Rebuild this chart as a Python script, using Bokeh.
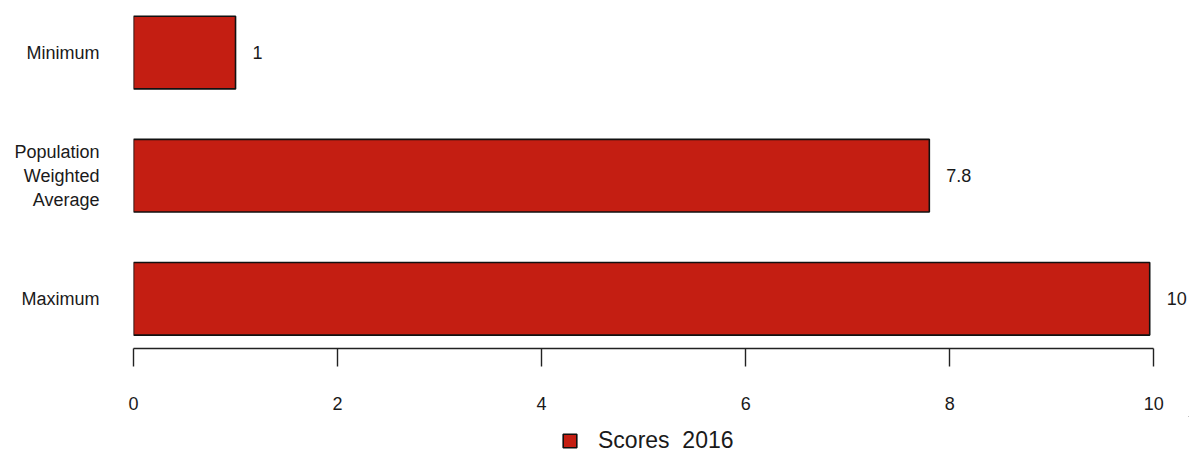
from bokeh.plotting import figure
from bokeh.layouts import column
from bokeh.models import Range1d, FixedTicker, Legend, LegendItem, ColumnDataSource
from bokeh.core.properties import value
from bokeh.embed import file_html
from bokeh.resources import INLINE

# ---- data ----
categories = ["Maximum", "Population\nWeighted\nAverage", "Minimum"]   # bottom -> top
scores_2016 = [9.96, 7.8, 1.0]
value_labels = ["10", "7.8", "1"]
x_ticks = [0, 2, 4, 6, 8, 10]
series_name = "Scores  2016"

FONT = "Liberation Sans"
BAR_COLOR = "#C41E12"
EDGE = "#111111"

pos = list(range(1, len(categories) + 1))
src = ColumnDataSource(dict(y=pos, v=scores_2016, lab=value_labels))

p = figure(width=1189, height=416, output_backend="svg", toolbar_location=None,
           x_range=Range1d(0, 10.35), y_range=Range1d(0.596, 3.358),
           min_border_left=133, min_border_right=0, min_border_top=8, min_border_bottom=68)
p.outline_line_color = None
p.xgrid.visible = False
p.ygrid.visible = False

bars = p.hbar(y="y", right="v", left=0, height=0.59, source=src,
              fill_color=BAR_COLOR, line_color=EDGE, line_width=1.6)

p.text(x="v", y="y", text="lab", source=src, x_offset=17,
       text_align="left", text_baseline="middle",
       text_font=value(FONT), text_font_size="18px", text_color="#1a1a1a")

# x axis (R style)
xa = p.xaxis[0]
xa.ticker = FixedTicker(ticks=x_ticks)
xa.bounds = (0, 10)
xa.axis_line_color = "#222222"
xa.axis_line_width = 1.4
xa.major_tick_line_color = "#222222"
xa.major_tick_line_width = 1.4
xa.major_tick_out = 18
xa.major_tick_in = 0
xa.minor_tick_line_color = None
xa.major_label_standoff = 30
xa.major_label_text_font = FONT
xa.major_label_text_font_size = "18px"
xa.major_label_text_color = "#1a1a1a"

# y axis
ya = p.yaxis[0]
ya.ticker = FixedTicker(ticks=pos)
ya.major_label_overrides = {pp: c for pp, c in zip(pos, categories)}
ya.axis_line_color = None
ya.major_tick_line_color = None
ya.minor_tick_line_color = None
ya.major_tick_out = 0
ya.major_tick_in = 0
ya.major_label_standoff = 34
ya.major_label_text_font = FONT
ya.major_label_text_font_size = "18px"
ya.major_label_text_color = "#1a1a1a"
ya.major_label_text_line_height = 1.2

# legend strip below the chart (the key renderer's bars lie well outside its view)
pl = figure(width=1189, height=38, output_backend="svg", toolbar_location=None,
            x_range=Range1d(-40, -39), y_range=Range1d(-40, -39),
            x_axis_type=None, y_axis_type=None, min_border=0)
pl.outline_line_color = None
pl.grid.visible = False
key = pl.hbar(y="y", right="v", left=0, height=0.59, source=src,
              fill_color=BAR_COLOR, line_color=EDGE, line_width=1.6)
legend = Legend(items=[LegendItem(label=series_name, renderers=[key])],
                location=(428, 0), orientation="horizontal",
                glyph_width=17, glyph_height=17, label_standoff=20,
                label_text_font=FONT, label_text_font_size="23px",
                label_text_color="#1a1a1a",
                border_line_color=None, background_fill_alpha=0,
                padding=0, margin=0, spacing=0)
pl.add_layout(legend)

layout = column(p, pl, spacing=0)
open("out.html", "w").write(file_html(layout, INLINE))
